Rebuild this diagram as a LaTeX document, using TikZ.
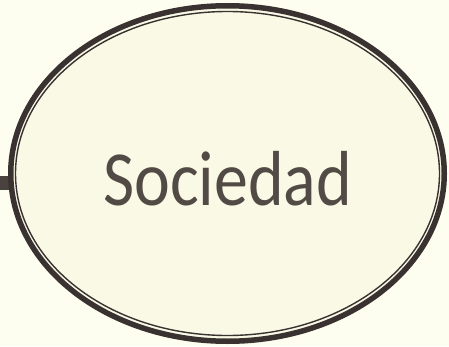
\documentclass[tikz,border=0pt]{standalone}
\usepackage{fontspec}
\setmainfont{Carlito}
\usetikzlibrary{shapes.geometric}
\definecolor{bg}{HTML}{FDFDF0}
\definecolor{fillc}{HTML}{F9F9E6}
\definecolor{edge}{HTML}{3A3230}
\definecolor{stubc}{HTML}{4A423F}
\definecolor{txt}{HTML}{524A45}
\tikzset{
  socnode/.style={ellipse, draw=edge, line width=5.5pt, fill=fillc,
    minimum width=433.5pt, minimum height=335.5pt, inner sep=0pt},
  innerring/.style={draw=edge, line width=1.4pt},
  stub/.style={draw=stubc, line width=14pt},
  lbltext/.style={text=txt, font=\fontsize{78}{84}\selectfont, anchor=base,
    xscale=0.87, transform shape}
}
\begin{document}
\begin{tikzpicture}[x=1pt,y=1pt]
\fill[bg] (0,0) rectangle (449,346);
\useasboundingbox (0,0) rectangle (449,346);
\coordinate (L) at (-5,163);
\draw[stub] (L) -- (30,163);
\node[socnode] (soc) at (227.5,172.5) {};
\draw[innerring] (soc.center) ellipse [x radius=212pt, y radius=162pt];
\node[lbltext] (lbl) at (227.5,141) {Sociedad};
\end{tikzpicture}
\end{document}
